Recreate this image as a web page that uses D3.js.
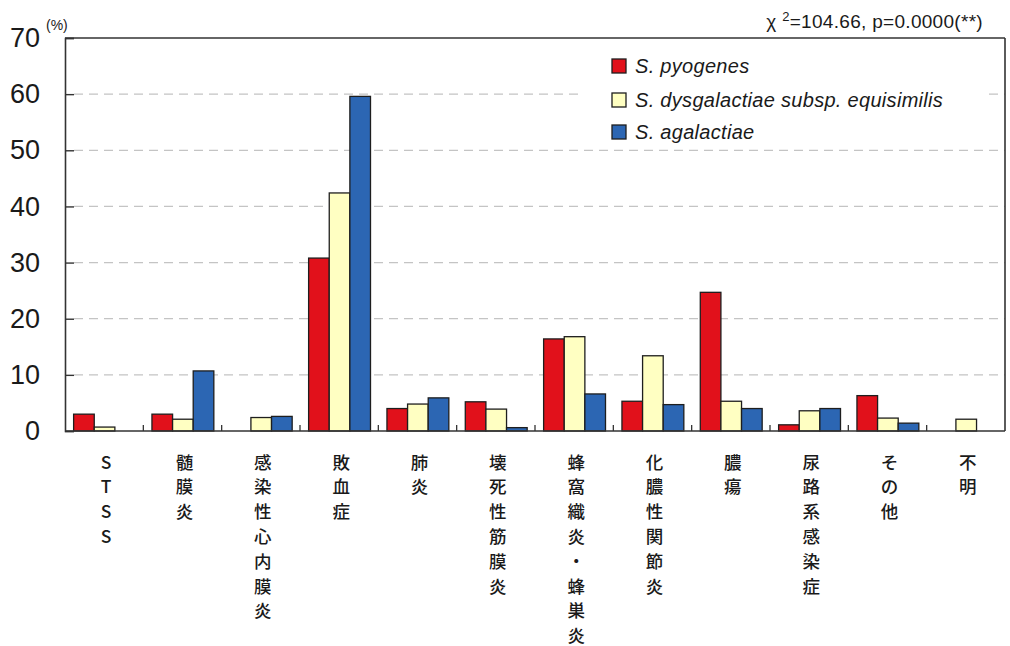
<!DOCTYPE html>
<html>
<head>
<meta charset="utf-8">
<script src="https://cdn.jsdelivr.net/npm/d3@7"></script>
<style>
  html, body { margin: 0; padding: 0; background: #fff; }
  svg { display: block; }
</style>
</head>
<body>
<svg id="chart" width="1010" height="646"></svg>
<script>
// Disease categories (drawn as vertical labels under the axis)
const categories = ["STSS", "髄膜炎", "感染性心内膜炎", "敗血症", "肺炎", "壊死性筋膜炎",
  "蜂窩織炎・蜂巣炎", "化膿性関節炎", "膿瘍", "尿路系感染症", "その他", "不明"];

// Series names and percentages per category
const seriesNames = ["S. pyogenes", "S. dysgalactiae subsp. equisimilis", "S. agalactiae"];
const pyogenes     = [3.0, 3.0, 0,   30.8, 4.0, 5.2, 16.4, 5.3, 24.7, 1.1, 6.3, 0];
const dysgalactiae = [0.7, 2.1, 2.4, 42.4, 4.8, 3.9, 16.8, 13.4, 5.3, 3.6, 2.3, 2.1];
const agalactiae   = [0,  10.7, 2.6, 59.6, 5.9, 0.6, 6.6, 4.7, 4.0, 4.0, 1.4, 0];

const yTicks = [0, 10, 20, 30, 40, 50, 60, 70];
const statText = "=104.66, p=0.0000(**)";

const colors = ["#e1111b", "#ffffc2", "#2c66b3"];
const seriesValues = [pyogenes, dysgalactiae, agalactiae];

const svg = d3.select("#chart");
const plotLeft = 65, plotRight = 1005, plotTop = 38, plotBottom = 431;

const x = d3.scaleBand().domain(categories).range([plotLeft, plotRight]).padding(0);
const bw = x.bandwidth();
const x1 = d3.scaleBand().domain(seriesNames).range([bw * 0.11, bw * 0.9]).padding(0);
const y = d3.scaleLinear().domain([0, 70]).range([plotBottom, plotTop]);

// Dashed grid lines
svg.append("g")
  .selectAll("line")
  .data(yTicks.filter(t => t > 0 && t < 70))
  .join("line")
  .attr("x1", plotLeft + 9).attr("x2", plotRight)
  .attr("y1", d => y(d)).attr("y2", d => y(d))
  .attr("stroke", "#c4c4c4").attr("stroke-width", 1.2)
  .attr("stroke-dasharray", "9,6");

// Legend background hides the grid behind it
svg.append("rect")
  .attr("x", 578).attr("y", 42).attr("width", 410).attr("height", 103)
  .attr("fill", "#fff");

// Bars
const groups = svg.append("g")
  .selectAll("g")
  .data(categories)
  .join("g")
  .attr("transform", d => `translate(${x(d)},0)`);

groups.selectAll("rect")
  .data((c, i) => seriesNames.map((s, k) => ({ s, k, v: seriesValues[k][i] })).filter(d => d.v > 0))
  .join("rect")
  .attr("x", d => x1(d.s))
  .attr("width", x1.bandwidth())
  .attr("y", d => y(d.v))
  .attr("height", d => y(0) - y(d.v))
  .attr("fill", d => colors[d.k])
  .attr("stroke", "#1e1e1e")
  .attr("stroke-width", 1.3);

// Y axis with inward ticks
const yAxis = d3.axisLeft(y).tickValues(yTicks).tickSize(-9).tickPadding(25).tickFormat(d3.format("d"));
const yg = svg.append("g").attr("transform", `translate(${plotLeft},0)`).call(yAxis);
yg.select(".domain").attr("stroke", "#333").attr("stroke-width", 1.6);
yg.selectAll(".tick line").attr("stroke", "#333").attr("stroke-width", 1.4);
yg.selectAll(".tick text")
  .attr("font-family", "Liberation Sans, Arial, sans-serif")
  .attr("font-size", 27).attr("fill", "#1a1a1a").attr("x", -25);

// X axis with short ticks at category boundaries
const xg = svg.append("g").attr("transform", `translate(0,${plotBottom})`);
xg.append("line").attr("x1", plotLeft).attr("x2", plotRight).attr("stroke", "#333").attr("stroke-width", 1.6);
xg.selectAll("line.tk")
  .data(categories.slice(1))
  .join("line").attr("class", "tk")
  .attr("x1", d => x(d)).attr("x2", d => x(d))
  .attr("y1", 0).attr("y2", -6)
  .attr("stroke", "#333").attr("stroke-width", 1.3);

// Frame: top and right edges
svg.append("line").attr("x1", plotLeft).attr("x2", plotRight).attr("y1", plotTop).attr("y2", plotTop)
  .attr("stroke", "#333").attr("stroke-width", 1.6);
svg.append("line").attr("x1", plotRight).attr("x2", plotRight).attr("y1", plotTop).attr("y2", plotBottom)
  .attr("stroke", "#333").attr("stroke-width", 1.6);

// Vertical category labels
const lab = svg.append("g");
categories.forEach(c => {
  const cx = x(c) + bw / 2 + 2;
  Array.from(c).forEach((ch, j) => {
    lab.append("text")
      .attr("x", cx).attr("y", 461 + j * 24.8)
      .attr("text-anchor", "middle").attr("dominant-baseline", "central")
      .attr("font-family", "Noto Sans CJK JP, sans-serif")
      .attr("font-weight", 500)
      .attr("font-size", 17.5).attr("fill", "#1a1a1a")
      .text(ch);
  });
});

// Unit label
svg.append("text").attr("x", 46).attr("y", 30)
  .attr("font-family", "Liberation Sans, Arial, sans-serif")
  .attr("font-size", 14).attr("fill", "#222").text("(%)");

// Chi-square statistic
const st = svg.append("text").attr("x", 983).attr("y", 28).attr("text-anchor", "end")
  .attr("font-family", "Liberation Sans, Arial, sans-serif")
  .attr("font-size", 19).attr("letter-spacing", 0.3).attr("fill", "#1a1a1a");
st.append("tspan").text("χ ");
st.append("tspan").attr("font-size", 13).attr("dy", -7).text("2");
st.append("tspan").attr("dy", 7).text(statText);

// Legend
const legendY = [66, 100, 132];
const lg = svg.append("g");
seriesNames.forEach((s, k) => {
  lg.append("rect").attr("x", 612).attr("y", legendY[k] - 7).attr("width", 14).attr("height", 14)
    .attr("fill", colors[k]).attr("stroke", "#1e1e1e").attr("stroke-width", 1.3);
  lg.append("text").attr("x", 635).attr("y", legendY[k]).attr("dominant-baseline", "central")
    .attr("font-family", "Liberation Sans, Arial, sans-serif")
    .attr("font-style", "italic").attr("font-size", 20).attr("letter-spacing", 0.3)
    .attr("fill", "#1a1a1a")
    .text(s);
});
</script>
</body>
</html>
